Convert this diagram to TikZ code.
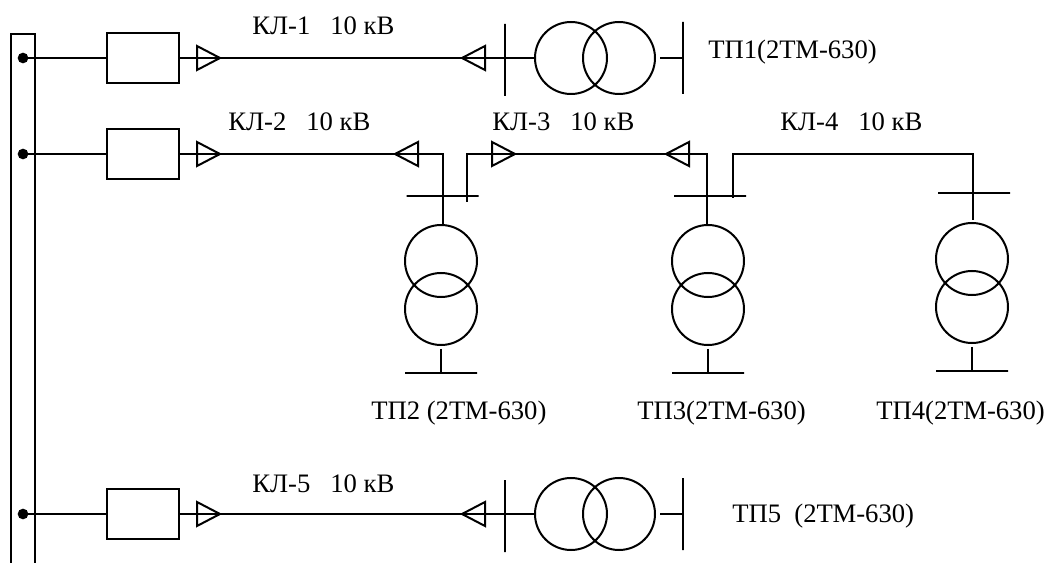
\documentclass[tikz,border=0pt]{standalone}
\usepackage{fontspec}
\setmainfont{Liberation Serif}
\usetikzlibrary{positioning, shapes.geometric}
\tikzset{
    line/.style={line width=1.5pt},
    fuse/.style={rectangle, draw, line width=1.5pt, minimum width=54pt, minimum height=37.5pt, inner sep=0pt, outer sep=0pt},
    dot/.style={circle, fill, minimum size=8pt, inner sep=0pt, outer sep=0pt},
    coil/.style={circle, draw, line width=1.5pt, minimum size=54pt, inner sep=0pt, outer sep=0pt},
    vbar/.style={rectangle, draw, line width=1.5pt, minimum width=0pt, minimum height=54pt, inner sep=0pt, outer sep=0pt},
    hbar/.style={rectangle, draw, line width=1.5pt, minimum width=54pt, minimum height=0pt, inner sep=0pt, outer sep=0pt},
    endr/.style={isosceles triangle, isosceles triangle stretches, draw, line width=1.5pt, minimum width=18pt, minimum height=17.25pt, inner sep=0pt, outer sep=0pt, anchor=apex},
    endl/.style={endr, shape border rotate=180},
    label/.style={anchor=base west, inner sep=0pt, font=\fontsize{20}{24}\selectfont},
}
\begin{document}
\begin{tikzpicture}[x=0.75pt, y=-0.75pt]
        \useasboundingbox (0,0) rectangle (1051,563);
        % bus
        \coordinate (busa) at (11,563);
        \coordinate (busb) at (11,34);
        \coordinate (busc) at (35,34);
        \coordinate (busd) at (35,563);
        \draw[line] (busa) -- (busb) -- (busc) -- (busd);
        \node [dot] (dot1) at (23,58) {};
        \node [dot] (dot2) at (23,154) {};
        \node [dot] (dot5) at (23,514) {};
        \node [fuse] (fuse1) at (143,58) {};
        \node [fuse] (fuse2) at (143,154) {};
        \node [fuse] (fuse5) at (143,514) {};
        \node [endr] (kl1s) [right=30.75pt of fuse1, anchor=apex] {};
        \node [endr] (kl2s) [right=30.75pt of fuse2, anchor=apex] {};
        \node [endr] (kl5s) [right=30.75pt of fuse5, anchor=apex] {};
        % TP1
        \node [coil] (tr1a) at (571,58) {};
        \node [coil] (tr1b) [right=-18pt of tr1a] {};
        \node [vbar] (hv1) [left=22.5pt of tr1a, yshift=-1.5pt] {};
        \node [vbar] (lv1) [right=21pt of tr1b] {};
        \coordinate [left=17.25pt of lv1] (stub1);
        \node [endl] (kl1e) at (462,58) {};
        \draw[line] (dot1) -- (fuse1);
        \draw[line] (fuse1) -- (tr1a);
        \draw[line] (stub1) -- (lv1);
        % TP5
        \node [coil] (tr5a) at (571,514) {};
        \node [coil] (tr5b) [right=-18pt of tr5a] {};
        \node [vbar] (hv5) [left=22.5pt of tr5a, yshift=-1.5pt] {};
        \node [vbar] (lv5) [right=21pt of tr5b] {};
        \coordinate [left=17.25pt of lv5] (stub5);
        \node [endl] (kl5e) at (462,514) {};
        \draw[line] (dot5) -- (fuse5);
        \draw[line] (fuse5) -- (tr5a);
        \draw[line] (stub5) -- (lv5);
        % TP2
        \node [coil] (tr2a) at (441,261) {};
        \node [coil] (tr2b) [below=-18pt of tr2a] {};
        \node [hbar] (hv2) at (442.5,196) {};
        \node [hbar] (lv2) [below=21pt of tr2b] {};
        \coordinate [above=18pt of lv2] (stub2);
        \node [endl] (kl2e) at (395,154) {};
        \coordinate (kl2a) at (443,154);
        \coordinate (kl2b) at (443,225);
        \coordinate (kl3a) at (467,202);
        \coordinate (kl3b) at (467,154);
        \node [endr] (kl3s) at (515,154) {};
        \draw[line] (dot2) -- (fuse2);
        \draw[line] (fuse2) -- (kl2a) -- (kl2b);
        \draw[line] (stub2) -- (lv2);
        % TP3
        \node [coil] (tr3a) at (708,261) {};
        \node [coil] (tr3b) [below=-18pt of tr3a] {};
        \node [hbar] (hv3) at (710,196) {};
        \node [hbar] (lv3) [below=21pt of tr3b] {};
        \coordinate [above=18pt of lv3] (stub3);
        \node [endl] (kl3e) at (666,154) {};
        \coordinate (kl3c) at (707,154);
        \coordinate (kl3d) at (707,226);
        \draw[line] (kl3a) -- (kl3b) -- (kl3c) -- (kl3d);
        \draw[line] (stub3) -- (lv3);
        % TP4
        \node [coil] (tr4a) at (972,259) {};
        \node [coil] (tr4b) [below=-18pt of tr4a] {};
        \node [hbar] (hv4) at (974,193) {};
        \node [hbar] (lv4) [below=21pt of tr4b] {};
        \coordinate [above=18pt of lv4] (stub4);
        \coordinate (kl4a) at (733,198);
        \coordinate (kl4b) at (733,154);
        \coordinate (kl4c) at (973,154);
        \coordinate (kl4d) at (973,220);
        \draw[line] (kl4a) -- (kl4b) -- (kl4c) -- (kl4d);
        \draw[line] (stub4) -- (lv4);
        % labels
        \node [label] (tkl1) at (252,35) {КЛ-1~~~10 кВ};
        \node [label] (tkl2) at (228,131) {КЛ-2~~~10 кВ};
        \node [label] (tkl3) at (492,131) {КЛ-3~~~10 кВ};
        \node [label] (tkl4) at (780,131) {КЛ-4~~~10 кВ};
        \node [label] (tkl5) at (252,492) {КЛ-5~~~10 кВ};
        \node [label] (ttp1) at (708,59) {ТП1(2ТМ-630)};
        \node [label] (ttp2) at (371,419) {ТП2 (2ТМ-630)};
        \node [label] (ttp3) at (637,419) {ТП3(2ТМ-630)};
        \node [label] (ttp4) at (876,419) {ТП4(2ТМ-630)};
        \node [label] (ttp5) at (732,522) {ТП5~~(2ТМ-630)};
    \end{tikzpicture}
\end{document}
